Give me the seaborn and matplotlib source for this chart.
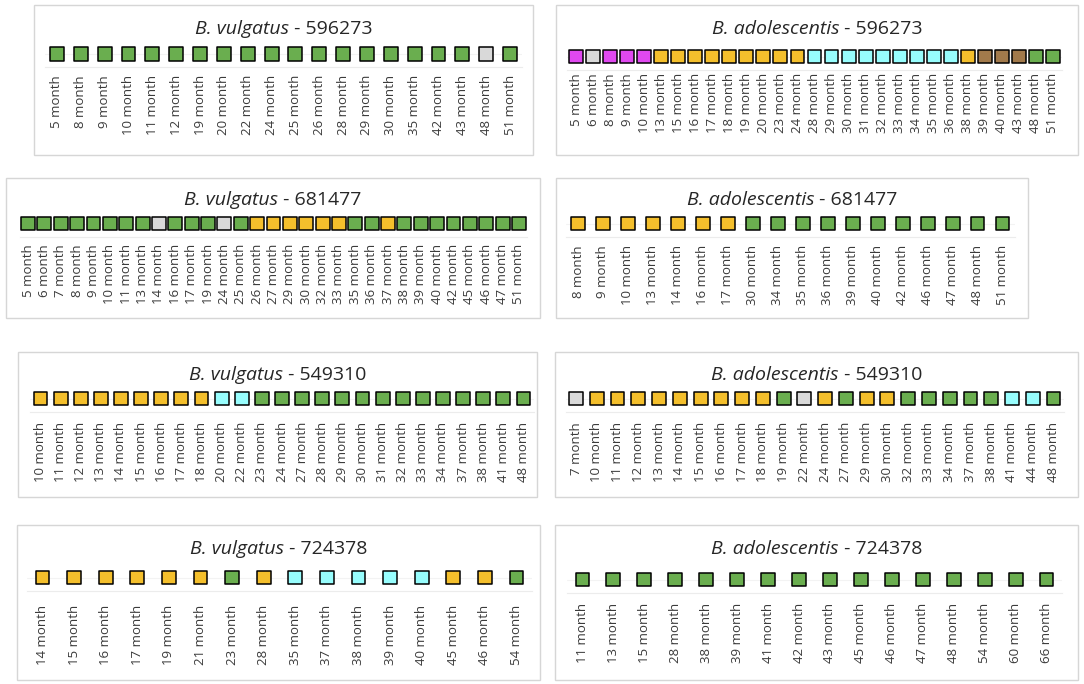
import matplotlib
matplotlib.use('Agg')
import matplotlib.pyplot as plt
import seaborn as sns
import pandas as pd
from matplotlib.patches import Rectangle

# ---------------- data ----------------
# state codes: G = green, Y = yellow, C = cyan, M = magenta, B = brown, N = grey (no call)
titles_species = ['B. vulgatus', 'B. adolescentis', 'B. vulgatus', 'B. adolescentis',
                  'B. vulgatus', 'B. adolescentis', 'B. vulgatus', 'B. adolescentis']
titles_ids = ['596273', '596273', '681477', '681477', '549310', '549310', '724378', '724378']

months_p1 = [5, 8, 9, 10, 11, 12, 19, 20, 22, 24, 25, 26, 28, 29, 30, 35, 42, 43, 48, 51]
states_p1 = ['G', 'G', 'G', 'G', 'G', 'G', 'G', 'G', 'G', 'G', 'G', 'G', 'G', 'G', 'G', 'G', 'G', 'G', 'N', 'G']

months_p2 = [5, 6, 8, 9, 10, 13, 15, 16, 17, 18, 19, 20, 23, 24, 28, 29, 30, 31, 32, 33, 34, 35, 36, 38, 39, 40, 43, 48, 51]
states_p2 = ['M', 'N', 'M', 'M', 'M', 'Y', 'Y', 'Y', 'Y', 'Y', 'Y', 'Y', 'Y', 'Y', 'C', 'C', 'C', 'C', 'C', 'C', 'C', 'C', 'C', 'Y', 'B', 'B', 'B', 'G', 'G']

months_p3 = [5, 6, 7, 8, 9, 10, 11, 13, 14, 16, 17, 19, 24, 25, 26, 27, 29, 30, 32, 33, 35, 36, 37, 38, 39, 40, 42, 45, 46, 47, 51]
states_p3 = ['G', 'G', 'G', 'G', 'G', 'G', 'G', 'G', 'N', 'G', 'G', 'G', 'N', 'G', 'Y', 'Y', 'Y', 'Y', 'Y', 'Y', 'G', 'G', 'Y', 'G', 'G', 'G', 'G', 'G', 'G', 'G', 'G']

months_p4 = [8, 9, 10, 13, 14, 16, 17, 30, 34, 35, 36, 39, 40, 42, 46, 47, 48, 51]
states_p4 = ['Y', 'Y', 'Y', 'Y', 'Y', 'Y', 'Y', 'G', 'G', 'G', 'G', 'G', 'G', 'G', 'G', 'G', 'G', 'G']

months_p5 = [10, 11, 12, 13, 14, 15, 16, 17, 18, 20, 22, 23, 24, 27, 28, 29, 30, 31, 32, 33, 34, 37, 38, 41, 48]
states_p5 = ['Y', 'Y', 'Y', 'Y', 'Y', 'Y', 'Y', 'Y', 'Y', 'C', 'C', 'G', 'G', 'G', 'G', 'G', 'G', 'G', 'G', 'G', 'G', 'G', 'G', 'G', 'G']

months_p6 = [7, 10, 11, 12, 13, 14, 15, 16, 17, 18, 19, 22, 24, 27, 29, 30, 32, 33, 34, 37, 38, 41, 44, 48]
states_p6 = ['N', 'Y', 'Y', 'Y', 'Y', 'Y', 'Y', 'Y', 'Y', 'Y', 'G', 'N', 'Y', 'G', 'Y', 'Y', 'G', 'G', 'G', 'G', 'G', 'C', 'C', 'G']

months_p7 = [14, 15, 16, 17, 19, 21, 23, 28, 35, 37, 38, 39, 40, 45, 46, 54]
states_p7 = ['Y', 'Y', 'Y', 'Y', 'Y', 'Y', 'G', 'Y', 'C', 'C', 'C', 'C', 'C', 'Y', 'Y', 'G']

months_p8 = [11, 13, 15, 28, 38, 39, 41, 42, 43, 45, 46, 47, 48, 54, 60, 66]
states_p8 = ['G', 'G', 'G', 'G', 'G', 'G', 'G', 'G', 'G', 'G', 'G', 'G', 'G', 'G', 'G', 'G']

all_months = [months_p1, months_p2, months_p3, months_p4, months_p5, months_p6, months_p7, months_p8]
all_states = [states_p1, states_p2, states_p3, states_p4, states_p5, states_p6, states_p7, states_p8]

# ---------------- styling / layout ----------------
palette = {'G': '#6aae4f', 'Y': '#f4bf2c', 'C': '#97fdfd', 'M': '#e048f0',
           'B': '#a27a4b', 'N': '#d9d9d9'}

W, H = 1084, 684
# box (x0, y0, x1, y1); centre x of first and last square; square centre y;
# title centre y; label top y  -- all in pixels
layout = [
    dict(box=(34, 5, 533, 155), xs=(57, 510), cy=54, ty=29, ly=75),
    dict(box=(556, 5, 1078, 155), xs=(576, 1053), cy=56.5, ty=29, ly=73),
    dict(box=(6, 178, 540, 318), xs=(28, 519), cy=223.5, ty=200, ly=244),
    dict(box=(556, 178, 1028, 318), xs=(578, 1002.5), cy=223.5, ty=200, ly=245),
    dict(box=(18, 352, 537, 497), xs=(40.5, 523.5), cy=398.5, ty=375, ly=422),
    dict(box=(555, 352, 1078, 497), xs=(576, 1053.5), cy=398.5, ty=375, ly=422),
    dict(box=(17, 525, 540, 680), xs=(42.5, 516.5), cy=577.5, ty=549, ly=605),
    dict(box=(555, 525, 1078, 680), xs=(582.5, 1046.5), cy=579.5, ty=549, ly=603),
]

sns.set_theme(style='white')
plt.rcParams['font.family'] = ['Open Sans', 'DejaVu Sans']

fig = plt.figure(figsize=(W / 100, H / 100), dpi=100)
fig.patch.set_facecolor('white')
renderer = fig.canvas.get_renderer()

HALF = 13  # half height of each strip axes, px


def fx(x):
    return x / W


def fy(y):
    return 1 - y / H


for i in range(8):
    L = layout[i]
    bx0, by0, bx1, by1 = L['box']
    fig.patches.append(Rectangle((fx(bx0), fy(by1)), fx(bx1 - bx0), (by1 - by0) / H,
                                 transform=fig.transFigure, fill=False,
                                 edgecolor='#d6d6d6', linewidth=1.0))

    labels = [f'{m} month' for m in all_months[i]]
    n = len(labels)
    first, last = L['xs']
    step = (last - first) / (n - 1)
    ax0, ax1 = first - step / 2, last + step / 2
    cy = L['cy']
    ax = fig.add_axes([fx(ax0), fy(cy + HALF), fx(ax1 - ax0), 2 * HALF / H])
    df = pd.DataFrame({'label': labels, 'y': [0] * n, 'state': all_states[i]})
    ax.axhline(0, color='#f3f3f3', linewidth=0.8, zorder=0)
    sns.scatterplot(data=df, x='label', y='y', hue='state', palette=palette,
                    marker='s', s=100, edgecolor='black', linewidth=1.1,
                    legend=False, ax=ax, zorder=3)
    ax.set_xlim(-0.5, n - 0.5)
    ax.set_ylim(-1, 1)
    ax.set_yticks([])
    ax.set_xlabel('')
    ax.set_ylabel('')
    ax.set_facecolor('none')
    for s in ['top', 'left', 'right']:
        ax.spines[s].set_visible(False)
    ax.spines['bottom'].set_color('#ececec')
    ax.spines['bottom'].set_linewidth(0.8)
    pad = (L['ly'] - (cy + HALF)) * 0.72
    ax.tick_params(axis='x', length=0, pad=pad, labelsize=9.5, labelcolor='#3a3a3a',
                   labelrotation=90)

    # two-part title: italic species + regular id
    tsize = 14
    t1 = fig.text(0, 0, titles_species[i], fontstyle='italic', fontsize=tsize,
                  va='center', ha='left', color='#262626')
    t2 = fig.text(0, 0, ' - ' + titles_ids[i], fontsize=tsize,
                  va='center', ha='left', color='#262626')
    w1 = t1.get_window_extent(renderer).width
    w2 = t2.get_window_extent(renderer).width
    xc = (bx0 + bx1) / 2
    x0 = xc - (w1 + w2) / 2
    t1.set_position((fx(x0), fy(L['ty'])))
    t2.set_position((fx(x0 + w1), fy(L['ty'])))

fig.savefig('out.png', dpi=100, facecolor='white')
